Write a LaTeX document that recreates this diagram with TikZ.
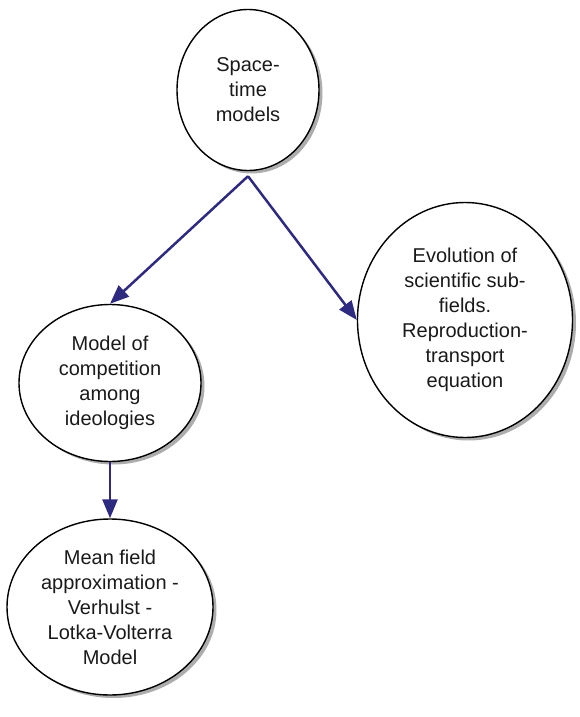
\documentclass[tikz,border=0pt]{standalone}
\usepackage{fontspec}
\setmainfont{Liberation Sans}
\usetikzlibrary{shapes.geometric,arrows.meta,shadows}
\definecolor{arrowblue}{HTML}{2E2A80}
\definecolor{txtgray}{HTML}{1A1A1A}
\tikzset{
  topic/.style={ellipse, draw=black, line width=1.4pt, fill=white, inner sep=0pt,
    align=center, text=txtgray, font=\fontsize{20}{25}\selectfont,
    drop shadow={shadow xshift=3.5pt, shadow yshift=-3pt, fill=gray!80, opacity=0.8}},
  link/.style={draw=arrowblue, line width=2.5pt,
    -{Triangle[length=19pt,width=15pt]}}
}
\begin{document}
\begin{tikzpicture}[x=1pt,y=-1pt]
\useasboundingbox (0,0) rectangle (579,717);
\node[topic, minimum width=142pt, minimum height=161pt] (space) at (248,90) {Space-\\time\\models};
\node[topic, minimum width=215pt, minimum height=235pt] (evol) at (465,320) {Evolution of\\scientific sub-\\fields.\\Reproduction-\\transport\\equation};
\node[topic, minimum width=182pt, minimum height=157pt] (comp) at (110,383) {Model of\\competition\\among\\ideologies};
\node[topic, minimum width=206pt, minimum height=176pt] (mean) at (110,607) {Mean field\\approximation -\\Verhulst -\\Lotka-Volterra\\Model};
\coordinate (fork) at ([yshift=-5pt]space.south);
\draw[link] (fork) -- (comp.north);
\draw[link] (fork) -- (evol.west);
\draw[link] (comp.south) -- (mean.north);
\end{tikzpicture}
\end{document}
